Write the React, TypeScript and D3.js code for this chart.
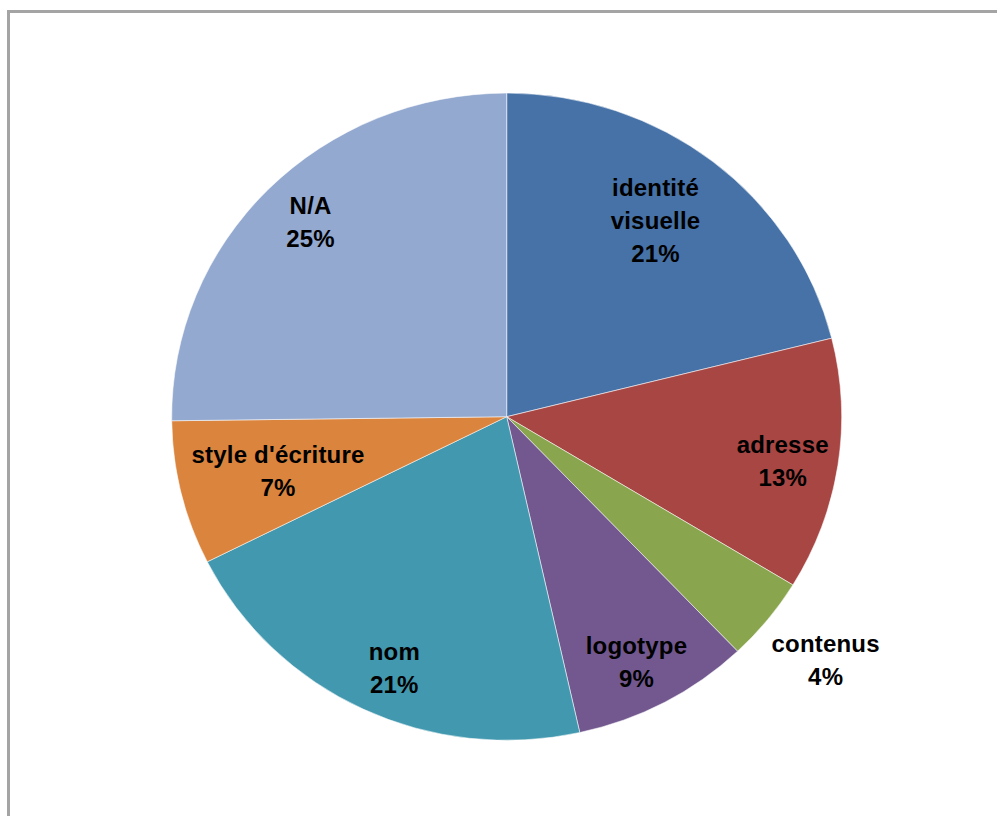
import React from "react";
import * as d3 from "d3";

const categories = ["identité visuelle", "adresse", "contenus", "logotype", "nom", "style d'écriture", "N/A"];
const values = [21.1, 12.6, 4.2, 8.6, 21.1, 7.2, 25.2];
const colors = ["#4672A7", "#A84644", "#89A54E", "#72588F", "#4198AF", "#DB843D", "#93A9CF"];
// label layout: radius factor (of outer radius) and angle offset in degrees from slice bisector
const labelRadius = [0.73, 0.84, 1.23, 0.875, 0.87, 0.71, 0.82];
const labelAngleOffset = [-0.5, 2.6, 0.4, 1.8, -2.7, -2.3, -0.2];
const labelLines = [["identité", "visuelle"], ["adresse"], ["contenus"], ["logotype"], ["nom"], ["style d'écriture"], ["N/A"]];

const W = 997;
const H = 816;
const cx = 506.7;
const cy = 416.7;
const R = 335;
const sy = 0.966;

export default function App() {
  const total = d3.sum(values);
  const pie = d3.pie<number>().sort(null).value((d) => d);
  const arcs = pie(values);
  const arc = d3.arc<d3.PieArcDatum<number>>().innerRadius(0).outerRadius(R);
  const lineH = 33;

  return (
    <svg width={W} height={H} style={{ position: "absolute", left: 0, top: 0, background: "#fff" }}>
      <rect x={8.5} y={11.5} width={1100} height={1100} fill="#fff" stroke="#a4a4a4" strokeWidth={3} />
      <g transform={`translate(${cx},${cy}) scale(1,${sy})`}>
        {arcs.map((a, i) => (
          <path key={i} d={arc(a) || ""} fill={colors[i]} stroke="#ffffff" strokeOpacity={0.55} strokeWidth={1} />
        ))}
      </g>
      <g>
        {arcs.map((a, i) => {
          const mid = (a.startAngle + a.endAngle) / 2 + (labelAngleOffset[i] * Math.PI) / 180;
          const r = R * labelRadius[i];
          const x = cx + r * Math.sin(mid);
          const y = cy - r * Math.cos(mid) * sy;
          const lines = [...labelLines[i], `${Math.round((values[i] / total) * 100)}%`];
          const y0 = y - ((lines.length - 1) * lineH) / 2;
          return (
            <text
              key={i}
              textAnchor="middle"
              fontFamily="'Liberation Sans', Arial, sans-serif"
              fontWeight="bold"
              fontSize={24}
              letterSpacing={0.2}
              fill="#000"
            >
              {lines.map((l, j) => (
                <tspan key={j} x={x} y={y0 + j * lineH}>
                  {l}
                </tspan>
              ))}
            </text>
          );
        })}
      </g>
    </svg>
  );
}
